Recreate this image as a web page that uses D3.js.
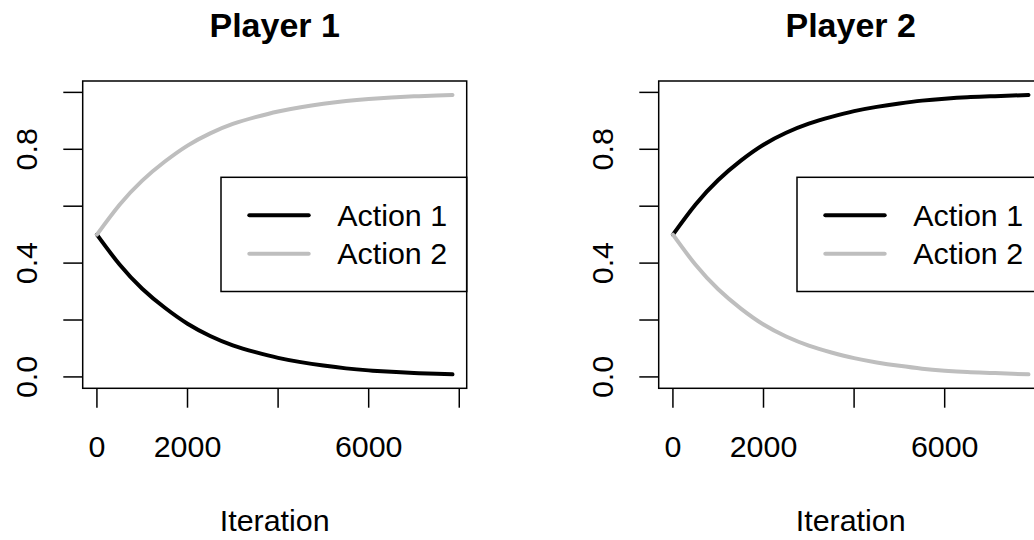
<!DOCTYPE html>
<html>
<head>
<meta charset="utf-8">
<script src="https://cdn.jsdelivr.net/npm/d3@7"></script>
<style>
  body { margin: 0; background: #fff; }
  svg { display: block; font-family: 'Liberation Sans', Arial, Helvetica, sans-serif; }
  .box, .tick, .legend-box { fill: none; stroke: #000; stroke-width: 1.5; }
  .axis-label, .tick-label, .legend-label { font-size: 30.4px; fill: #000; }
  .title { font-size: 34px; font-weight: bold; fill: #000; }
  .series { fill: none; stroke-width: 4; stroke-linecap: round; stroke-linejoin: round; }
</style>
</head>
<body>
<div id="chart"></div>
<script>
// Values
const players = ['Player 1', 'Player 2'];
const actions = ['Action 1', 'Action 2'];
const actionColors = ['#000000', '#bebebe'];

const iterations = [0, 500, 1000, 1500, 2000, 2500, 3000, 3500, 4000, 4500, 5000, 5500, 6000, 6500, 7000, 7500, 7850];

const p1Action1 = [0.500, 0.395, 0.310, 0.243, 0.187, 0.144, 0.111, 0.087, 0.067, 0.052, 0.040, 0.030, 0.023, 0.018, 0.014, 0.011, 0.009];
const p1Action2 = [0.500, 0.605, 0.690, 0.757, 0.813, 0.856, 0.889, 0.913, 0.933, 0.948, 0.960, 0.970, 0.977, 0.982, 0.986, 0.989, 0.991];
const p2Action1 = [0.500, 0.606, 0.692, 0.760, 0.816, 0.858, 0.890, 0.914, 0.934, 0.949, 0.961, 0.971, 0.978, 0.983, 0.986, 0.989, 0.991];
const p2Action2 = [0.500, 0.394, 0.308, 0.240, 0.184, 0.142, 0.110, 0.086, 0.066, 0.051, 0.039, 0.029, 0.022, 0.017, 0.014, 0.011, 0.009];

const xTicks = [0, 2000, 4000, 6000, 8000];
const xTickLabels = ['0', '2000', '', '6000', ''];
const yTicks = [0, 0.2, 0.4, 0.6, 0.8, 1.0];
const yTickLabels = ['0.0', '', '0.4', '', '0.8', ''];

class PlayerPanel {

  constructor(_config, series) {
    this.config = {
      parent: _config.parent,
      offsetX: _config.offsetX || 0,
      title: _config.title,
      box: {left: 82.7, right: 466.7, top: 81, bottom: 388.3}
    };
    this.series = series;
    this.initVis();
  }

  initVis() {
    let vis = this;
    const b = vis.config.box;

    vis.g = vis.config.parent.append('g')
        .attr('transform', `translate(${vis.config.offsetX},0)`);

    // R style: 4% padding on each side of the data range
    const xMax = d3.max(iterations);
    vis.xScale = d3.scaleLinear()
        .domain([-0.04 * xMax, 1.04 * xMax])
        .range([b.left, b.right]);

    vis.yScale = d3.scaleLinear()
        .domain([-0.04, 1.04])
        .range([b.bottom, b.top]);

    vis.line = d3.line()
        .x(d => vis.xScale(d[0]))
        .y(d => vis.yScale(d[1]))
        .curve(d3.curveNatural);

    vis.renderVis();
  }

  renderVis() {
    let vis = this;
    const b = vis.config.box;
    const cx = (b.left + b.right) / 2;

    // curves
    vis.g.selectAll('.series')
        .data(vis.series)
      .join('path')
        .attr('class', 'series')
        .attr('stroke', (d, i) => actionColors[i])
        .attr('d', d => vis.line(iterations.map((x, j) => [x, d[j]])));

    // plot box
    vis.g.append('rect')
        .attr('class', 'box')
        .attr('x', b.left)
        .attr('y', b.top)
        .attr('width', b.right - b.left)
        .attr('height', b.bottom - b.top);

    // x axis
    vis.g.selectAll('.x-tick')
        .data(xTicks)
      .join('line')
        .attr('class', 'tick x-tick')
        .attr('x1', d => vis.xScale(d))
        .attr('x2', d => vis.xScale(d))
        .attr('y1', b.bottom)
        .attr('y2', b.bottom + 19.4);

    vis.g.selectAll('.x-label')
        .data(xTicks)
      .join('text')
        .attr('class', 'tick-label x-label')
        .attr('x', d => vis.xScale(d))
        .attr('y', 457.3)
        .attr('text-anchor', 'middle')
        .text((d, i) => xTickLabels[i]);

    // y axis
    vis.g.selectAll('.y-tick')
        .data(yTicks)
      .join('line')
        .attr('class', 'tick y-tick')
        .attr('x1', b.left)
        .attr('x2', b.left - 19.4)
        .attr('y1', d => vis.yScale(d))
        .attr('y2', d => vis.yScale(d));

    vis.g.selectAll('.y-label')
        .data(yTicks)
      .join('text')
        .attr('class', 'tick-label y-label')
        .attr('transform', d => `translate(36.7,${vis.yScale(d)}) rotate(-90)`)
        .attr('text-anchor', 'middle')
        .text((d, i) => yTickLabels[i]);

    // titles
    vis.g.append('text')
        .attr('class', 'title')
        .attr('x', cx)
        .attr('y', 36.7)
        .attr('text-anchor', 'middle')
        .text(vis.config.title);

    vis.g.append('text')
        .attr('class', 'axis-label')
        .attr('x', cx)
        .attr('y', 531)
        .attr('text-anchor', 'middle')
        .text('Iteration');

    // legend, placed "right" and centred vertically
    const legend = vis.g.append('g');
    const legTop = 177.3, legBottom = 291.5, legLeft = 221;
    legend.append('rect')
        .attr('class', 'legend-box')
        .attr('x', legLeft)
        .attr('y', legTop)
        .attr('width', b.right - legLeft)
        .attr('height', legBottom - legTop);

    const rows = legend.selectAll('.legend-row')
        .data(actions)
      .join('g')
        .attr('class', 'legend-row')
        .attr('transform', (d, i) => `translate(0,${215.3 + i * 38.4})`);

    rows.append('line')
        .attr('class', 'series')
        .attr('x1', 249.3)
        .attr('x2', 308.7)
        .attr('stroke', (d, i) => actionColors[i]);

    rows.append('text')
        .attr('class', 'legend-label')
        .attr('x', 337.3)
        .attr('dy', '0.35em')
        .text(d => d);
  }
}

const svg = d3.select('#chart').append('svg')
    .attr('width', 1034)
    .attr('height', 540);

new PlayerPanel({parent: svg, offsetX: 0, title: players[0]}, [p1Action1, p1Action2]);
new PlayerPanel({parent: svg, offsetX: 576, title: players[1]}, [p2Action1, p2Action2]);
</script>
</body>
</html>
